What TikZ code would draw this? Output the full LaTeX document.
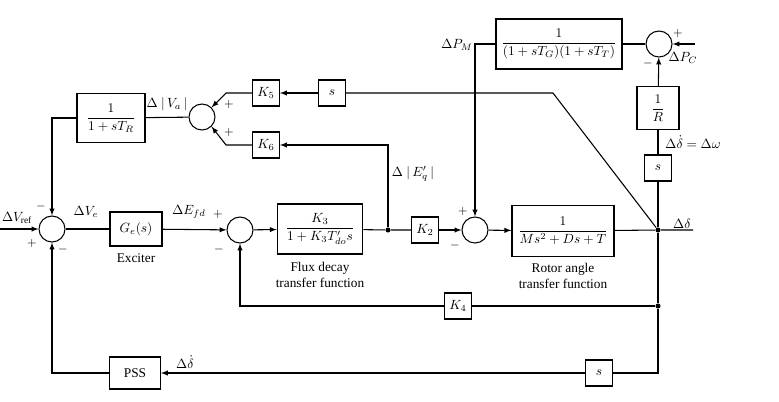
\documentclass[tikz,border=0pt]{standalone}
\usepackage{amsmath}
\usepackage{fontspec}
\setmainfont{Liberation Serif}

\begin{document}
\begin{tikzpicture}[x=0.75pt,y=-0.75pt,line width=0.8pt,>=latex,
  blk/.style={draw,line width=0.9pt,inner sep=1pt},
  gain/.style={blk,minimum width=20pt,minimum height=19.5pt},
  sumc/.style={draw,circle,minimum size=19.5pt,inner sep=0pt},
  jdot/.style={circle,fill,inner sep=0pt,minimum size=3.8pt},
  sgn/.style={font=\small,inner sep=0pt},
  lbl/.style={inner sep=0pt}]
  \useasboundingbox (0,0) rectangle (779,401);
  % pixel grid: 779 x 401, y downwards

  % Summing junctions
  \node[sumc] (s1) at (52,229) {};
  \node[sumc] (s2) at (240,230) {};
  \node[sumc] (s3) at (475,230) {};
  \node[sumc] (sv) at (202,117) {};
  \node[sumc] (sp) at (659,44) {};

  % Blocks
  \node[blk,minimum width=51pt,minimum height=37pt] (tr) at (111,118) {$\dfrac{1}{1+sT_R}$};
  \node[blk,minimum width=39pt,minimum height=25.5pt] (ge) at (136,229) {$G_e(s)$};
  \node[blk,minimum width=64pt,minimum height=37.5pt] (flux) at (320,229) {$\dfrac{K_3}{1+K_3T'_{do}s}$};
  \node[gain] (k2) at (425,230) {$K_2$};
  \node[blk,minimum width=76.5pt,minimum height=38pt] (rotor) at (563,231) {$\dfrac{1}{Ms^2+Ds+T}$};
  \node[blk,minimum width=94.5pt,minimum height=37.5pt] (gov) at (559,44) {$\dfrac{1}{(1+sT_G)(1+sT_T)}$};
  \node[blk,minimum width=31.5pt,minimum height=32pt] (rr) at (658,108) {$\dfrac{1}{R}$};
  \node[gain] (sr) at (658,168) {$s$};
  \node[gain] (k5) at (266,93) {$K_5$};
  \node[gain] (st) at (332,93) {$s$};
  \node[gain] (k6) at (266,145) {$K_6$};
  \node[gain] (k4) at (458,306) {$K_4$};
  \node[gain] (sb) at (599,373) {$s$};
  \node[blk,minimum width=38pt,minimum height=24pt] (pss) at (135,373) {PSS};

  % Branch points and free ends
  \node[jdot] (je) at (388,230) {};
  \node[jdot] (jd) at (658,230) {};
  \node[jdot] (jk) at (658,306) {};
  \coordinate (vin) at (0,229);
  \coordinate (pcin) at (695,44);
  \coordinate (dout) at (693,230);
  \coordinate (bend) at (553,93);

  % Forward path
  \draw[->] (vin) -- (s1);
  \draw (s1) -- (ge);
  \draw[->] (ge) -- (s2);
  \draw[->] (s2) -- (flux);
  \draw (flux) -- (je) -- (k2);
  \draw[->] (k2) -- (s3);
  \draw[->] (s3) -- (rotor);
  \draw (rotor) -- (jd) -- (dout);

  % Governor loop
  \draw (jd) -- (sr);
  \draw (sr) -- (rr);
  \draw[->] (rr) -- (sp);
  \draw[->] (pcin) -- (sp);
  \draw (sp) -- (gov);
  \draw[->] (gov.west) -| (s3.north);

  % Voltage loop
  \draw (jd) -- (bend) -- (st.east);
  \draw[->] (st) -- (k5);
  \draw[->] (je) |- (k6.east);
  \draw[->] (k5.west) -- ++(-26,0) -- (sv.north east);
  \draw[->] (k6.west) -- ++(-26,0) -- (sv.south east);
  \draw (sv) -- (tr);
  \draw[->] (tr.west) -| (s1.north);

  % K4 and stabiliser loops
  \draw (jd) -- (jk);
  \draw (jk) -- (k4);
  \draw[->] (k4.west) -| (s2.south);
  \draw (jk) |- (sb.east);
  \draw[->] (sb) -- (pss);
  \draw[->] (pss.west) -| (s1.south);

  % Signals
  \node[lbl] (lvref) at (17,218) {$\Delta V_{\text{ref}}$};
  \node[lbl] (lve) at (86,212) {$\Delta V_e$};
  \node[lbl] (lefd) at (189,212) {$\Delta E_{fd}$};
  \node[lbl] (lva) at (167,104) {$\Delta\ |\,V_a\,|$};
  \node[lbl] (leq) at (413,174) {$\Delta\ |\,E'_q\,|$};
  \node[lbl] (lpm) at (457,45) {$\Delta P_M$};
  \node[lbl] (lpc) at (683,58) {$\Delta P_C$};
  \node[lbl] (ldl) at (682,224) {$\Delta\delta$};
  \node[lbl] (lw) at (693,142) {$\Delta\dot{\delta}=\Delta\omega$};
  \node[lbl] (ldd) at (185,362) {$\Delta\dot{\delta}$};

  % Block captions
  \node[lbl] (cex) at (136,258) {Exciter};
  \node[lbl,align=center] (cfl) at (320,275) {Flux decay\\transfer function};
  \node[lbl,align=center] (cro) at (563,276) {Rotor angle\\transfer function};

  % Signs
  \node[sgn] (p1) at (32,243) {$+$};
  \node[sgn] (m1) at (41,206) {$-$};
  \node[sgn] (m2) at (63,249) {$-$};
  \node[sgn] (p2) at (218,214) {$+$};
  \node[sgn] (m3) at (219,249) {$-$};
  \node[sgn] (p3) at (229,104) {$+$};
  \node[sgn] (p4) at (229,132) {$+$};
  \node[sgn] (p5) at (463,211) {$+$};
  \node[sgn] (m4) at (455,245) {$-$};
  \node[sgn] (p6) at (678,33) {$+$};
  \node[sgn] (m5) at (648,63) {$-$};
\end{tikzpicture}
\end{document}
